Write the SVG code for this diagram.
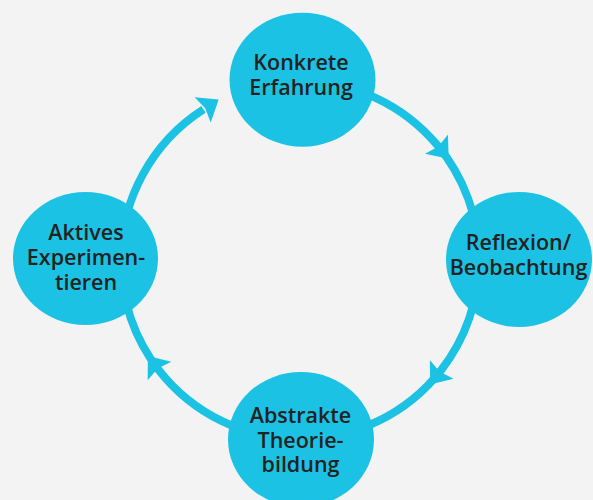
<svg xmlns="http://www.w3.org/2000/svg" width="593" height="500" viewBox="0 0 593 500">
  <style>
    .node { fill: #1bc2e3; }
    .lbl { font-family: "Open Sans", "Liberation Sans", sans-serif; font-size: 21.5px; font-weight: 600; fill: #222222; text-anchor: middle; }
    .conn { fill: none; stroke: #1bc2e3; stroke-width: 8; }
  </style>
  <defs>
    <marker id="arr" markerUnits="userSpaceOnUse" markerWidth="24" markerHeight="34" refX="0" refY="17" orient="auto" overflow="visible">
      <path d="M-1,2 L18,17 L-1,32 L2,17 Z" fill="#1bc2e3"/>
    </marker>
  </defs>
  <rect width="593" height="500" fill="#f3f3f3"/>
  <g id="connectors">
    <path class="conn" marker-mid="url(#arr)" d="M300,81 A179,179 0 0 1 437.1,144.9 A179,179 0 0 1 479,260"/>
    <path class="conn" marker-mid="url(#arr)" d="M479,260 A179,179 0 0 1 441.1,370.2 A179,179 0 0 1 300,439"/>
    <path class="conn" marker-mid="url(#arr)" d="M300,439 A179,179 0 0 1 158.9,370.2 A179,179 0 0 1 121,260"/>
    <path class="conn" marker-end="url(#arr)" d="M121,260 A179,179 0 0 1 203.5,109.3"/>
  </g>
  <g id="konkrete-erfahrung">
    <ellipse class="node" cx="302.5" cy="79.7" rx="73" ry="67"/>
    <text class="lbl" x="301" y="70">Konkrete</text>
    <text class="lbl" x="301" y="95">Erfahrung</text>
  </g>
  <g id="reflexion-beobachtung">
    <ellipse class="node" cx="519" cy="259.5" rx="73" ry="67.5"/>
    <text class="lbl" x="518.5" y="250">Reflexion/</text>
    <text class="lbl" x="518.5" y="275">Beobachtung</text>
  </g>
  <g id="abstrakte-theoriebildung">
    <ellipse class="node" cx="301" cy="439.5" rx="73" ry="67.5"/>
    <text class="lbl" x="300.5" y="423">Abstrakte</text>
    <text class="lbl" x="300.5" y="447.5">Theorie-</text>
    <text class="lbl" x="300.5" y="472">bildung</text>
  </g>
  <g id="aktives-experimentieren">
    <ellipse class="node" cx="85.5" cy="258.5" rx="72.5" ry="66.5"/>
    <text class="lbl" x="86" y="240">Aktives</text>
    <text class="lbl" x="86" y="265">Experimen-</text>
    <text class="lbl" x="86" y="290">tieren</text>
  </g>
</svg>
